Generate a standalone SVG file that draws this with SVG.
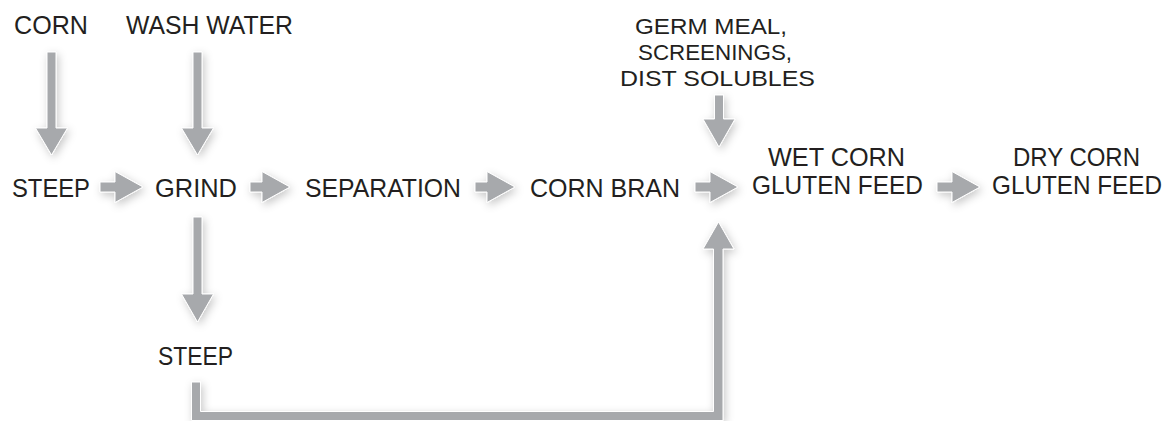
<svg xmlns="http://www.w3.org/2000/svg" width="1166" height="421" viewBox="0 0 1166 421">
<style>
text{font-family:"Liberation Sans",Arial,sans-serif;font-size:25px;fill:#231f20}
.sm{font-size:22.5px}
.arr{fill:#a7a9ac;stroke:#ffffff;stroke-width:1;stroke-linejoin:miter}
</style>
<defs>
<filter id="sh" x="-50%" y="-50%" width="200%" height="200%">
<feDropShadow dx="2" dy="3" stdDeviation="4" flood-color="#000" flood-opacity="0.22"/>
</filter>
</defs>
<rect width="1166" height="421" fill="#ffffff"/>
<g id="connectors" filter="url(#sh)">
<polygon class="arr" points="47,52 56,52 56,128 67.5,128 51.5,155 35.5,128 47,128"/>
<polygon class="arr" points="193,52 202,52 202,128 213.5,128 197.5,155 181.5,128 193,128"/>
<polygon class="arr" points="100,182 115,182 115,171.5 143,187 115,202.5 115,192 100,192"/>
<polygon class="arr" points="250,182 262,182 262,171.5 290,187 262,202.5 262,192 250,192"/>
<polygon class="arr" points="475,182 487,182 487,171.5 515,187 487,202.5 487,192 475,192"/>
<polygon class="arr" points="695,182 710,182 710,171.5 738,187 710,202.5 710,192 695,192"/>
<polygon class="arr" points="937,182 952,182 952,171.5 980,187 952,202.5 952,192 937,192"/>
<polygon class="arr" points="714.5,95 723.5,95 723.5,119 735,119 719,147 703,119 714.5,119"/>
<polygon class="arr" points="193,217 202,217 202,294 213.5,294 197.5,322 181.5,294 193,294"/>
<polygon class="arr" points="191.5,382 200.5,382 200.5,411.5 713.5,411.5 713.5,249 703,249 718.5,222 734,249 723,249 723,420.5 191.5,420.5"/>
</g>
<g id="corn"><text x="14" y="34" textLength="74" lengthAdjust="spacingAndGlyphs">CORN</text></g>
<g id="wash-water"><text x="126" y="34" textLength="167" lengthAdjust="spacingAndGlyphs">WASH WATER</text></g>
<g id="steep1"><text x="12" y="197" textLength="78" lengthAdjust="spacingAndGlyphs">STEEP</text></g>
<g id="grind"><text x="155" y="197" textLength="82" lengthAdjust="spacingAndGlyphs">GRIND</text></g>
<g id="separation"><text x="305" y="197" textLength="156" lengthAdjust="spacingAndGlyphs">SEPARATION</text></g>
<g id="corn-bran"><text x="530" y="197" textLength="150" lengthAdjust="spacingAndGlyphs">CORN BRAN</text></g>
<g id="wet-corn-gluten-feed">
<text x="768" y="166" textLength="137" lengthAdjust="spacingAndGlyphs">WET CORN</text>
<text x="752" y="194" textLength="171" lengthAdjust="spacingAndGlyphs">GLUTEN FEED</text>
</g>
<g id="dry-corn-gluten-feed">
<text x="1013" y="166" textLength="127" lengthAdjust="spacingAndGlyphs">DRY CORN</text>
<text x="992" y="194" textLength="170" lengthAdjust="spacingAndGlyphs">GLUTEN FEED</text>
</g>
<g id="germ-meal">
<text class="sm" x="635" y="34" textLength="152" lengthAdjust="spacingAndGlyphs">GERM MEAL,</text>
<text class="sm" x="638" y="60" textLength="154" lengthAdjust="spacingAndGlyphs">SCREENINGS,</text>
<text class="sm" x="620" y="86" textLength="195" lengthAdjust="spacingAndGlyphs">DIST SOLUBLES</text>
</g>
<g id="steep2"><text x="158" y="365" textLength="75" lengthAdjust="spacingAndGlyphs">STEEP</text></g>
</svg>
